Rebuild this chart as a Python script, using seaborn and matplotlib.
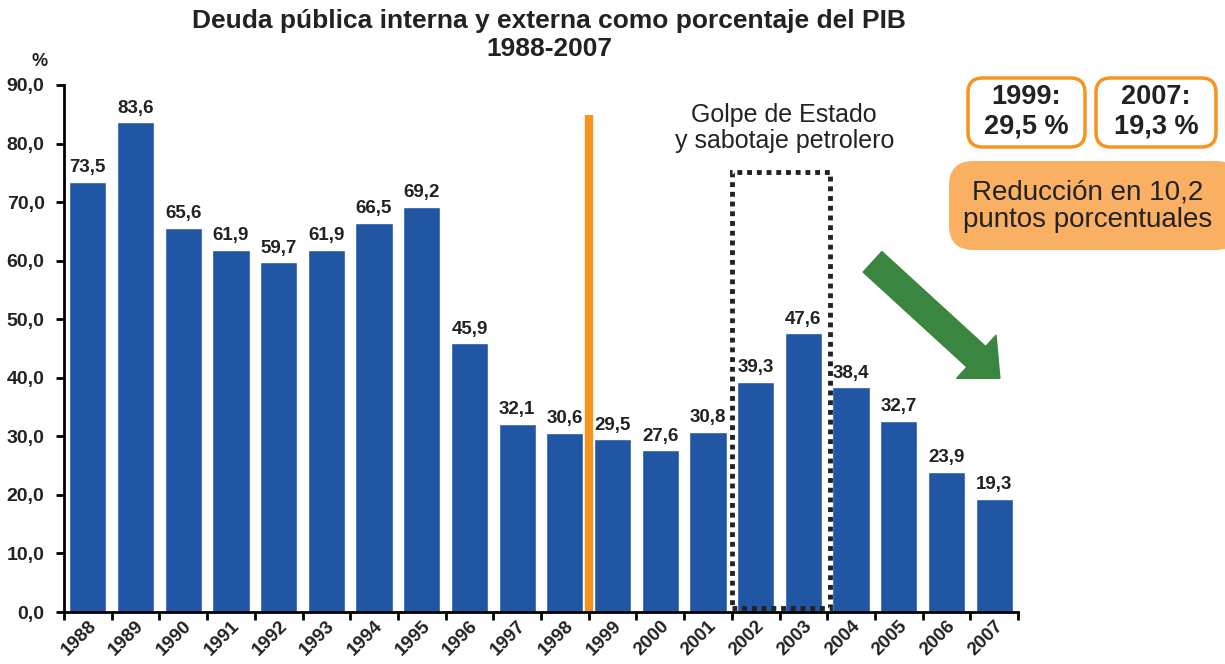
import matplotlib
matplotlib.use('Agg')
import matplotlib.pyplot as plt
import seaborn as sns
import pandas as pd
from matplotlib.patches import Rectangle, FancyBboxPatch
from matplotlib.ticker import FuncFormatter, FixedLocator

# data
years = ['1988', '1989', '1990', '1991', '1992', '1993', '1994', '1995', '1996', '1997',
         '1998', '1999', '2000', '2001', '2002', '2003', '2004', '2005', '2006', '2007']
deuda = [73.5, 83.6, 65.6, 61.9, 59.7, 61.9, 66.5, 69.2, 45.9, 32.1,
         30.6, 29.5, 27.6, 30.8, 39.3, 47.6, 38.4, 32.7, 23.9, 19.3]

df = pd.DataFrame({'year': years, 'pct': deuda})

sns.set_theme(style='white')
plt.rcParams['font.family'] = ['Liberation Sans', 'DejaVu Sans']

fig = plt.figure(figsize=(12.25, 6.64), dpi=100)
ax = fig.add_axes([64/1225, 1 - 612/664, 954/1225, 527/664])

sns.barplot(data=df, x='year', y='pct', color='#2156a5', saturation=1, width=0.78, ax=ax)

def coma(v, pos=None):
    return f'{v:.1f}'.replace('.', ',')

ax.bar_label(ax.containers[0], labels=[coma(v) for v in deuda], padding=4,
             fontsize=13.5, fontweight='bold', color='#222222')

ax.set_xlim(-0.5, 19.5)
ax.set_ylim(0, 90)
ax.set_yticks(range(0, 91, 10))
ax.yaxis.set_major_formatter(FuncFormatter(coma))
ax.set_xlabel('')
ax.set_ylabel('')

for s in ['top', 'right']:
    ax.spines[s].set_visible(False)
for s in ['left', 'bottom']:
    ax.spines[s].set_color('black')
    ax.spines[s].set_linewidth(2)

ax.tick_params(axis='y', which='major', direction='out', length=6, width=2, color='black',
               left=True, labelsize=14, labelcolor='#222222', pad=8)
for lab in ax.get_yticklabels():
    lab.set_fontweight('bold')

# x tick marks between bars, labels under bars
ax.xaxis.set_minor_locator(FixedLocator([i - 0.5 for i in range(21)]))
ax.tick_params(axis='x', which='minor', direction='out', length=6, width=2, color='black', bottom=True)
ax.tick_params(axis='x', which='major', length=0, pad=4)
ax.set_xticks(range(len(years)))
ax.set_xticklabels(years, rotation=45, ha='right', rotation_mode='anchor',
                   fontsize=13.5, fontweight='bold', color='#222222')

# orange separator line
ax.vlines(10.5, 0, 84.8, color='#f7941d', linewidth=6)

# dotted box around 2002-2003
ax.add_patch(Rectangle((13.5, 0.7), 2.06, 74.4, fill=False, edgecolor='#222222',
                       linewidth=3.5, linestyle=(0, (1, 1)), clip_on=False))
ax.text(14.6, 82.6, 'Golpe de Estado\ny sabotaje petrolero', ha='center', va='center',
        fontsize=18, color='#222222', linespacing=1.1)

# green arrow
ax.annotate('', xy=(19.12, 39.9), xytext=(16.45, 59.8),
            arrowprops=dict(arrowstyle='simple,head_length=2.3,head_width=4.2,tail_width=2.0',
                            color='#3a8540', shrinkA=0, shrinkB=0, mutation_scale=10),
            annotation_clip=False)

# title and unit label
fig.text(549/1225, 1 - 35/664, 'Deuda pública interna y externa como porcentaje del PIB\n1988-2007',
         ha='center', va='center', fontsize=19, fontweight='bold', color='#222222', linespacing=1.25)
fig.text(40/1225, 1 - 61/664, '%', ha='center', va='center', fontsize=13, fontweight='bold', color='#222222')

# boxes on the right
def fbox(x0, y0, x1, y1, fc, ec, r):
    p = FancyBboxPatch((x0/1225, 1 - y1/664), (x1 - x0)/1225, (y1 - y0)/664,
                       boxstyle=f'round,pad=0,rounding_size={r}', transform=fig.transFigure,
                       facecolor=fc, edgecolor=ec, linewidth=2.5, mutation_aspect=1225/664)
    fig.patches.append(p)

fbox(968, 78, 1085, 147, 'white', '#f7941d', 0.012)
fbox(1096, 78, 1216, 147, 'white', '#f7941d', 0.012)
fbox(949, 161, 1240, 250, '#f9b062', 'none', 0.02)

fig.text(1026/1225, 1 - 112/664, '1999:\n29,5 %', ha='center', va='center', fontsize=19.5,
         fontweight='bold', color='#222222', linespacing=1.15)
fig.text(1156/1225, 1 - 112/664, '2007:\n19,3 %', ha='center', va='center', fontsize=19.5,
         fontweight='bold', color='#222222', linespacing=1.15)
fig.text(1088/1225, 1 - 206/664, 'Reducción en 10,2\npuntos porcentuales', ha='center', va='center',
         fontsize=20, color='#222222', linespacing=1.1)

fig.savefig('out.png', dpi=100)
